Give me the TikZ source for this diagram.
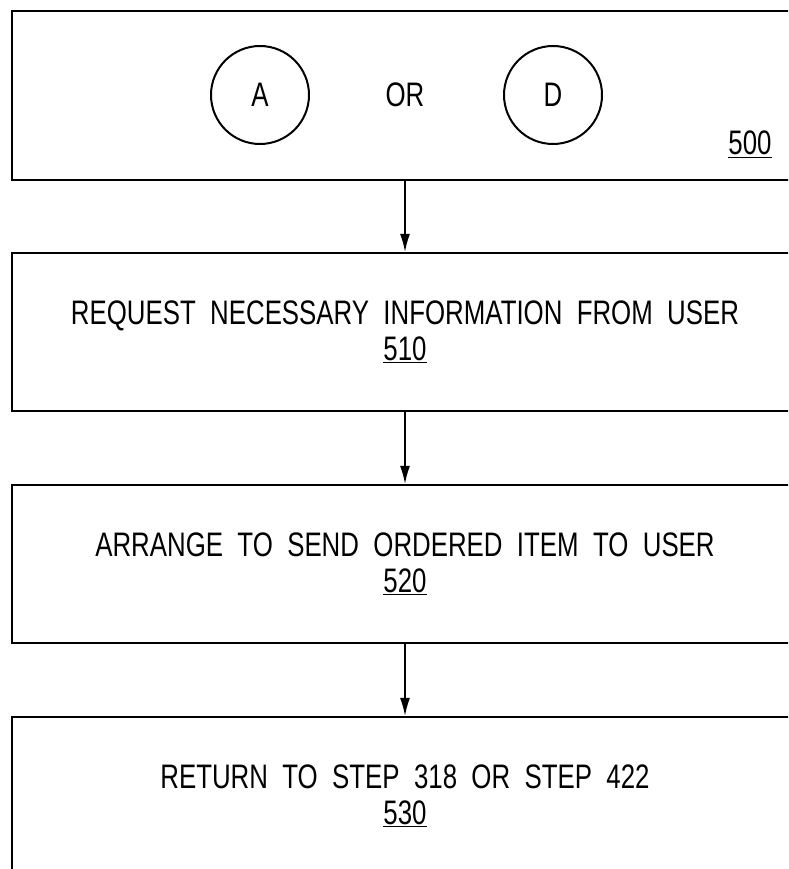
\documentclass[tikz,border=0pt]{standalone}
\usepackage{fontspec}
\setmainfont{Liberation Sans}[FakeStretch=0.76, WordSpace=2.0]
\usetikzlibrary{arrows.meta}
\begin{document}
\begin{tikzpicture}[x=1pt,y=-1pt,
  box/.style={draw, line width=2.4pt, rectangle, minimum width=786pt, inner sep=0pt, align=center,
              font=\fontsize{34}{36}\selectfont},
  conn/.style={circle, draw, line width=2pt, minimum size=98pt, inner sep=0pt, font=\fontsize{34}{36}\selectfont},
  lbl/.style={inner sep=0pt, font=\fontsize{34}{36}\selectfont},
  arr/.style={line width=1.3pt, -{Latex[length=18pt,width=10pt]}}]
\useasboundingbox (0,0) rectangle (788,869);
\clip (0,0) rectangle (788,869);
\node[box, minimum height=169pt] (b500) at (405,95.5) {};
\node[conn] (cA) at (260,95) {A};
\node[lbl] (or) at (405,95) {OR};
\node[conn] (cD) at (553,95) {D};
\node[lbl, anchor=base] (n500) at (750,155) {\underline{500}};
\node[box, minimum height=158pt] (b510) at (405,332) {REQUEST NECESSARY INFORMATION FROM USER\\\underline{510}};
\node[box, minimum height=158pt] (b520) at (405,564) {ARRANGE TO SEND ORDERED ITEM TO USER\\\underline{520}};
\node[box, minimum height=158pt] (b530) at (405,796) {RETURN TO STEP 318 OR STEP 422\\\underline{530}};
\draw[arr] (b500.south) -- (b510.north);
\draw[arr] (b510.south) -- (b520.north);
\draw[arr] (b520.south) -- (b530.north);
\end{tikzpicture}
\end{document}
